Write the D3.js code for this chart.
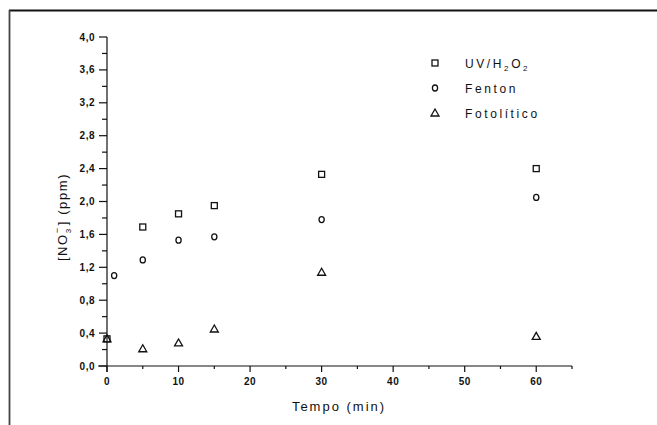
<!DOCTYPE html>
<html>
<head>
<meta charset="utf-8">
<script src="https://cdn.jsdelivr.net/npm/d3@7"></script>
<style>
  html, body { margin: 0; padding: 0; background: #fff; }
  svg { display: block; }
  text { font-family: "Liberation Sans", Arial, sans-serif; fill: #111; }
</style>
</head>
<body>
<script>
// Nitrate concentration over time for three treatment processes
const timeUV = [0, 5, 10, 15, 30, 60];
const uvH2O2 = [0.33, 1.69, 1.85, 1.95, 2.33, 2.40];

const timeFenton = [1, 5, 10, 15, 30, 60];
const fenton = [1.10, 1.29, 1.53, 1.57, 1.78, 2.05];

const timeFoto = [0, 5, 10, 15, 30, 60];
const fotolitico = [0.33, 0.21, 0.28, 0.45, 1.14, 0.36];

const xTicks = [0, 10, 20, 30, 40, 50, 60];
const xMinor = [5, 15, 25, 35, 45, 55, 65];
const yTicks = [0, 0.4, 0.8, 1.2, 1.6, 2.0, 2.4, 2.8, 3.2, 3.6, 4.0];
const yMinor = [0.2, 0.6, 1.0, 1.4, 1.8, 2.2, 2.6, 3.0, 3.4, 3.8];

const W = 657, H = 425;
const svg = d3.select("body").append("svg").attr("width", W).attr("height", H);

// outer frame (runs off the right and bottom edges)
svg.append("line").attr("x1", 9).attr("y1", 10.5).attr("x2", W).attr("y2", 10.5)
  .attr("stroke", "#111").attr("stroke-width", 1.8);
svg.append("line").attr("x1", 9.5).attr("y1", 10).attr("x2", 9.5).attr("y2", H)
  .attr("stroke", "#444").attr("stroke-width", 1.8);

const x = d3.scaleLinear().domain([0, 65]).range([107, 572]);
const y = d3.scaleLinear().domain([0, 4.0]).range([366, 37]);

const fmt = d => d3.format(".1f")(d).replace(".", ",");

// x axis
const gx = svg.append("g").attr("transform", `translate(0,${y(0)})`);
gx.append("line").attr("x1", 98).attr("x2", x(65)).attr("stroke", "#111").attr("stroke-width", 1.2);
gx.selectAll(".maj").data(xTicks).join("line")
  .attr("x1", d => x(d)).attr("x2", d => x(d)).attr("y1", 0).attr("y2", 6)
  .attr("stroke", "#111").attr("stroke-width", 1.2);
gx.selectAll(".min").data(xMinor).join("line")
  .attr("x1", d => x(d)).attr("x2", d => x(d)).attr("y1", 0).attr("y2", 3)
  .attr("stroke", "#111").attr("stroke-width", 1.2);
gx.selectAll("text").data(xTicks).join("text")
  .attr("x", d => x(d)).attr("y", 19)
  .attr("text-anchor", "middle").attr("font-size", 10).attr("font-weight", "bold")
  .attr("letter-spacing", 0.5)
  .text(d => d);

// y axis
const gy = svg.append("g").attr("transform", `translate(${x(0)},0)`);
gy.append("line").attr("y1", y(4.0)).attr("y2", y(0) + 6).attr("stroke", "#111").attr("stroke-width", 1.2);
gy.selectAll(".maj").data(yTicks).join("line")
  .attr("x1", -8).attr("x2", 0).attr("y1", d => y(d)).attr("y2", d => y(d))
  .attr("stroke", "#111").attr("stroke-width", 1.2);
gy.selectAll(".min").data(yMinor).join("line")
  .attr("x1", -5).attr("x2", 0).attr("y1", d => y(d)).attr("y2", d => y(d))
  .attr("stroke", "#111").attr("stroke-width", 1.2);
gy.selectAll("text").data(yTicks).join("text")
  .attr("x", -12).attr("y", d => y(d) + 3.5)
  .attr("text-anchor", "end").attr("font-size", 10).attr("font-weight", "bold")
  .attr("letter-spacing", 0.5)
  .text(fmt);

// axis titles
svg.append("text").attr("x", 339).attr("y", 411).attr("text-anchor", "middle")
  .attr("font-size", 13).attr("letter-spacing", 2).text("Tempo (min)");

const yt = svg.append("text")
  .attr("transform", "translate(67,217) rotate(-90)")
  .attr("text-anchor", "middle").attr("font-size", 13).attr("letter-spacing", 1.6);
yt.append("tspan").text("[NO");
yt.append("tspan").attr("font-size", 8).attr("dy", 4).text("3");
yt.append("tspan").attr("font-size", 9).attr("dy", -11).attr("dx", -6).text("−");
yt.append("tspan").attr("dy", 7).attr("dx", 1).text("] (ppm)");

// markers
const markerStyle = sel => sel.attr("fill", "none").attr("stroke", "#111").attr("stroke-width", 1.3);
const triPath = "M0,-4L4,3L-4,3Z";

svg.append("g").selectAll("rect").data(timeUV.map((t, i) => [t, uvH2O2[i]])).join("rect")
  .attr("x", d => x(d[0]) - 3).attr("y", d => y(d[1]) - 3).attr("width", 6).attr("height", 6)
  .call(markerStyle);

svg.append("g").selectAll("ellipse").data(timeFenton.map((t, i) => [t, fenton[i]])).join("ellipse")
  .attr("cx", d => x(d[0])).attr("cy", d => y(d[1])).attr("rx", 2.6).attr("ry", 3)
  .call(markerStyle);

svg.append("g").selectAll("path").data(timeFoto.map((t, i) => [t, fotolitico[i]])).join("path")
  .attr("transform", d => `translate(${x(d[0])},${y(d[1])})`).attr("d", triPath)
  .call(markerStyle);

// legend
const lg = svg.append("g");
lg.append("rect").attr("x", 432).attr("y", 60).attr("width", 6).attr("height", 6).call(markerStyle);
lg.append("ellipse").attr("cx", 435).attr("cy", 88).attr("rx", 2.6).attr("ry", 3).call(markerStyle);
lg.append("path").attr("transform", "translate(435,113)").attr("d", triPath).call(markerStyle);

const ls = 2.6;
const lt1 = lg.append("text").attr("x", 465).attr("y", 68).attr("font-size", 12).attr("letter-spacing", ls);
lt1.append("tspan").text("UV/H");
lt1.append("tspan").attr("font-size", 8).attr("dy", 3).text("2");
lt1.append("tspan").attr("dy", -3).text("O");
lt1.append("tspan").attr("font-size", 8).attr("dy", 3).text("2");
lg.append("text").attr("x", 465).attr("y", 93).attr("font-size", 12).attr("letter-spacing", ls).text("Fenton");
lg.append("text").attr("x", 465).attr("y", 118).attr("font-size", 12).attr("letter-spacing", ls).text("Fotolítico");
</script>
</body>
</html>
